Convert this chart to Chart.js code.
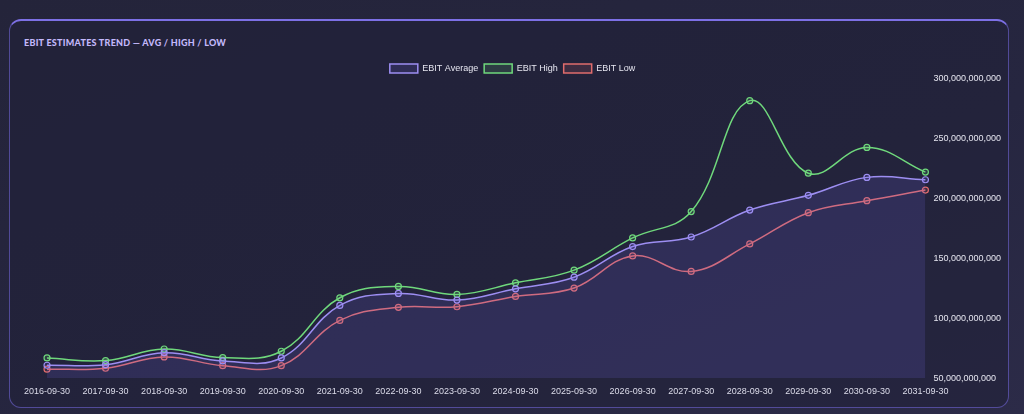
<!DOCTYPE html>
<html>
<head>
<meta charset="utf-8">
<script src="https://cdn.jsdelivr.net/npm/chart.js@4"></script>
<style>
  html, body { margin: 0; padding: 0; }
  body {
    width: 1024px; height: 414px; overflow: hidden;
    background: linear-gradient(160deg, #24243a 0%, #262640 60%, #2c2b48 100%);
    font-family: "Liberation Sans", Arial, sans-serif;
  }
  .panel {
    position: absolute; left: 9px; top: 19px; width: 1000px; height: 389px;
    box-sizing: border-box;
    border: 1px solid rgba(120, 108, 230, 0.55);
    border-top: 2px solid #7d70e6;
    border-radius: 12px;
    background: rgba(34, 33, 56, 0.6);
  }
  .title {
    position: absolute; left: 14px; top: 16px;
    font-family: "Lato", "Open Sans", sans-serif;
    font-weight: 900; font-size: 9px; letter-spacing: 0.25px;
    color: #c3b8fb; text-transform: uppercase;
  }
  .chart-box { position: absolute; left: 14px; top: 37px; width: 977px; height: 339px; }
</style>
</head>
<body>
<div class="panel">
  <div class="title">EBIT Estimates Trend — Avg / High / Low</div>
  <div class="chart-box"><canvas id="ebitChart"></canvas></div>
</div>
<script>
// period end dates (x axis)
const periods = ['2016-09-30', '2017-09-30', '2018-09-30', '2019-09-30', '2020-09-30', '2021-09-30',
  '2022-09-30', '2023-09-30', '2024-09-30', '2025-09-30', '2026-09-30', '2027-09-30',
  '2028-09-30', '2029-09-30', '2030-09-30', '2031-09-30'];

// EBIT estimates, in billions (scaled to units below)
const ebitAvg = [60.8, 61.3, 71.3, 64.4, 66.9, 110.8, 120.8, 115.3, 124.7, 134.4, 160.0, 168.0, 190.5, 202.8, 217.8, 215.8];
const ebitHigh = [66.9, 64.7, 74.4, 67.2, 72.5, 117.2, 126.7, 120.0, 129.7, 140.3, 167.2, 189.2, 281.9, 221.3, 242.8, 222.2];
const ebitLow = [57.5, 58.3, 67.8, 60.5, 60.5, 98.3, 109.2, 109.7, 118.3, 125.3, 152.2, 139.2, 162.2, 188.3, 198.3, 207.2];

const BILLION = 1e9;
const toUnits = arr => arr.map(v => v * BILLION);

const purple = '#9d8ef2';
const green = '#6fd87c';
const red = '#e06c6c';

function makeSeries(label, data, color, fill, bg) {
  return {
    label: label,
    data: toUnits(data),
    borderColor: color,
    backgroundColor: bg,
    pointBackgroundColor: bg,
    pointBorderColor: color,
    pointRadius: 3,
    pointBorderWidth: 1.2,
    borderWidth: 1.5,
    tension: 0.4,
    fill: fill
  };
}

// pull the plot a little closer to the legend
const tightLegend = {
  id: 'tightLegend',
  beforeInit(chart) {
    const fit = chart.legend.fit;
    chart.legend.fit = function () {
      fit.bind(chart.legend)();
      this.height -= 4;
    };
  }
};

document.addEventListener('DOMContentLoaded', () => {
  const ctx = document.getElementById('ebitChart').getContext('2d');
  new Chart(ctx, {
    type: 'line',
    data: {
      labels: periods,
      datasets: [
        makeSeries('EBIT Average', ebitAvg, purple, 'start', 'rgba(120, 104, 235, 0.16)'),
        makeSeries('EBIT High', ebitHigh, green, false, 'rgba(111, 216, 124, 0.15)'),
        makeSeries('EBIT Low', ebitLow, red, false, 'rgba(224, 108, 108, 0.15)')
      ]
    },
    plugins: [tightLegend],
    options: {
      responsive: true,
      maintainAspectRatio: false,
      animation: false,
      layout: { padding: 0 },
      plugins: {
        legend: {
          labels: {
            color: '#e6e6f0',
            boxWidth: 28,
            boxHeight: 9,
            padding: 6,
            font: { size: 9, family: 'Liberation Sans' }
          }
        },
        tooltip: { enabled: false }
      },
      scales: {
        x: {
          grid: { display: false },
          border: { display: false },
          ticks: { padding: 0, color: '#dcdcea', font: { size: 9, family: 'Liberation Sans' }, maxRotation: 0, autoSkip: false }
        },
        y: {
          position: 'right',
          min: 50 * BILLION,
          max: 300 * BILLION,
          grid: { display: false },
          border: { display: false },
          ticks: {
            stepSize: 50 * BILLION,
            padding: 0,
            color: '#e6e6f0',
            font: { size: 9, family: 'Liberation Sans' },
            callback: v => v.toLocaleString('en-US')
          }
        }
      }
    }
  });
});
</script>
</body>
</html>
